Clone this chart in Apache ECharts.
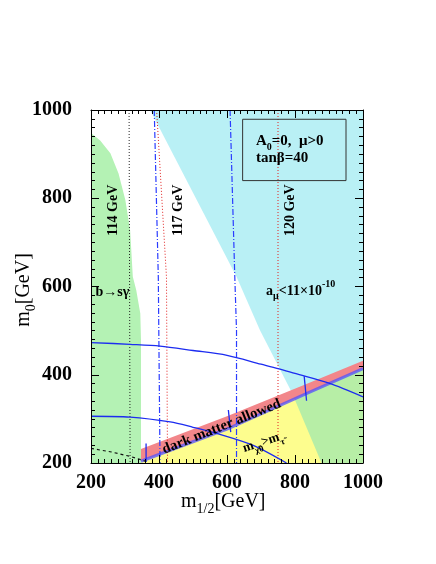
<!DOCTYPE html>
<html lang="en">
<head>
<meta charset="UTF-8">
<title>m0 - m1/2 plane, tanβ=40</title>
<script src="https://cdn.jsdelivr.net/npm/echarts@6.0.0/dist/echarts.min.js"></script>
</head>
<body style="margin:0;background:#fff">
<div id="main" style="width:436px;height:564px;"></div>
<script>
// every point is (m1/2, m0) in GeV
var bsgExcluded = [[200,200],[200,948],[227,931],[257,902],[281,856],[301,796],[315,728],[323,622],[333,592],[345,539],[347,480],[347,200]];
var gmuExcluded = [[374,1000],[1000,1000],[1000,200],[878,200],[790,361],[697,501],[628,622]];
var dmTop = [[347,232],[600,306],[830,378],[1000,432]];
var dmBottom = [[347,204],[600,277],[830,356],[1000,414]];
var higgs114 = [[312,1000],[315,200]];
var higgs117 = [[393,1000],[422,621],[425,200]];
var higgs120 = [[750,1000],[750,200]];
var dashDotLeft = [[386,1000],[398,620],[403,200]];
var dashDotRight = [[609,1000],[623,620],[628,500],[628,200]];
var contourUpper = [[200,473],[315,469],[403,465],[500,455],[600,444],[700,424],[750,414],[800,403],[900,381],[1000,350]];
var contourLower = [[200,306],[315,304],[433,293],[500,281],[570,267],[677,240],[775,200]];
var contourTicks = [[[362,244],[362,202]], [[604,320],[611,270]], [[827,397],[834,341]]];
var dashedBlack = [[200,233],[260,225],[315,215],[354,206],[370,200]];
var higgsLabels = ['114 GeV', '117 GeV', '120 GeV'];

var FONT = 'Liberation Serif';
var chart = echarts.init(document.getElementById('main'));

var stauRegion = [[347,200]].concat(dmBottom).concat([[1000,200]]);
var dmBand = dmTop.concat(dmBottom.slice().reverse());

function area(name, pts, color, z) {
    return {
        type: 'custom', name: name, silent: true, z: z, clip: true,
        data: [pts[0]],
        renderItem: function (params, api) {
            return {
                type: 'polygon',
                shape: { points: pts.map(function (p) { return api.coord(p); }) },
                style: { fill: color }
            };
        }
    };
}

function curve(name, pts, color, width, dash, z, smooth) {
    return {
        type: 'line', name: name, data: pts, symbol: 'none', silent: true, z: z,
        smooth: smooth || false,
        lineStyle: { color: color, width: width, type: dash || 'solid' }
    };
}

function axis(pos, labels) {
    return {
        type: 'value', min: 200, max: 1000, interval: 200, position: pos, z: 10,
        axisLine: { show: true, onZero: false, lineStyle: { color: '#000', width: 1 } },
        axisTick: { show: true, inside: true, length: 8, lineStyle: { color: '#000' } },
        minorTick: { show: true, splitNumber: 10, length: 4, lineStyle: { color: '#000' } },
        splitLine: { show: false },
        axisLabel: labels ? {
            fontFamily: FONT, fontWeight: 'bold', fontSize: 20, color: '#000',
            margin: (pos === 'bottom' ? 10 : 19),
            formatter: function (v) { return String(v); }
        } : { show: false }
    };
}

var series = [
    area('bsg', bsgExcluded, '#b4f2b4', 1),
    area('stau', stauRegion, '#fdfd8e', 1),
    area('gmu', gmuExcluded, 'rgba(22,205,222,0.3)', 2),
    area('dm', dmBand, '#f2868a', 3),
    curve('dmEdge', dmBottom, 'rgba(80,80,255,0.75)', 3, 'solid', 4),
    curve('h114', higgs114, '#222', 1, [1, 2], 5),
    curve('h117', higgs117, '#e02020', 1, [1, 2], 5),
    curve('h120', higgs120, '#e02020', 1, [1, 2], 5),
    curve('ddL', dashDotLeft, '#2a3cff', 1.2, [6, 2, 1, 2], 5),
    curve('ddR', dashDotRight, '#2a3cff', 1.2, [6, 2, 1, 2], 5),
    curve('cU', contourUpper, '#1c2cf0', 1.3, 'solid', 6, 0.3),
    curve('cL', contourLower, '#1c2cf0', 1.3, 'solid', 6, 0.3),
    curve('dash', dashedBlack, '#111', 1.2, [3, 3], 6)
];
contourTicks.forEach(function (t, i) {
    series.push(curve('tick' + i, t, '#1c2cf0', 1.3, 'solid', 7));
});

chart.setOption({
    animation: false,
    grid: { left: 91, top: 110, width: 272, height: 353 },
    xAxis: [axis('bottom', true), axis('top', false)],
    yAxis: [axis('left', true), axis('right', false)],
    series: series
});

function P(p) { return chart.convertToPixel({ xAxisIndex: 0, yAxisIndex: 0 }, p); }

function rich(size, weight) {
    var s = Math.round(size * 0.68);
    return {
        n: { fontFamily: FONT, fontSize: size, fontWeight: weight, lineHeight: size + 8, verticalAlign: 'middle', fill: '#000' },
        sub: { fontFamily: FONT, fontSize: s, fontWeight: weight, lineHeight: s, verticalAlign: 'bottom', fill: '#000' },
        sup: { fontFamily: FONT, fontSize: s, fontWeight: weight, lineHeight: s, verticalAlign: 'top', fill: '#000' }
    };
}

function label(text, at, size, weight, align, rot) {
    var p = P(at);
    return {
        type: 'text', x: p[0], y: p[1], rotation: rot || 0, z: 100,
        style: { text: text, rich: rich(size, weight), textAlign: align, textVerticalAlign: 'middle' }
    };
}

var higgsAt = [[265,773], [457,773], [785,773]];
var boxA = P([646,979]), boxB = P([950,840]);
var deg = Math.PI / 180;

var graphics = higgsLabels.map(function (t, i) {
    return label('{n|' + t + '}', higgsAt[i], 14, 'bold', 'center', 90 * deg);
});
graphics.push(
    { type: 'rect', z: 100, shape: { x: boxA[0], y: boxA[1], width: boxB[0] - boxA[0], height: boxB[1] - boxA[1] },
      style: { fill: 'none', stroke: '#333', lineWidth: 1 } },
    label('{n|A}{sub|0}{n|=0,  μ>0}', [685,930], 15, 'bold', 'left'),
    label('{n|tanβ=40}', [685,890], 15, 'bold', 'left'),
    label('{n|b→sγ}', [213,586], 14, 'bold', 'left'),
    label('{n|a}{sub|μ}{n|<11×10}{sup|-10}', [715,590], 14, 'bold', 'left'),
    label('{n|dark matter allowed}', [584,282], 14.5, 'bold', 'center', 21.8 * deg),
    label('{n|m}{sub|χ̃0}{n|>m}{sub|τ̃}', [706,247], 13, 'bold', 'center', 18 * deg),
    { type: 'text', x: 181, y: 502, z: 100,
      style: { text: '{n|m}{sub|1/2}{n|[GeV]}', rich: rich(20, 'normal'), textAlign: 'left', textVerticalAlign: 'middle' } },
    { type: 'text', x: 24, y: 290, z: 100, rotation: 90 * deg,
      style: { text: '{n|m}{sub|0}{n|[GeV]}', rich: rich(20, 'normal'), textAlign: 'center', textVerticalAlign: 'middle' } }
);

chart.setOption({ graphic: graphics });
</script>
</body>
</html>
